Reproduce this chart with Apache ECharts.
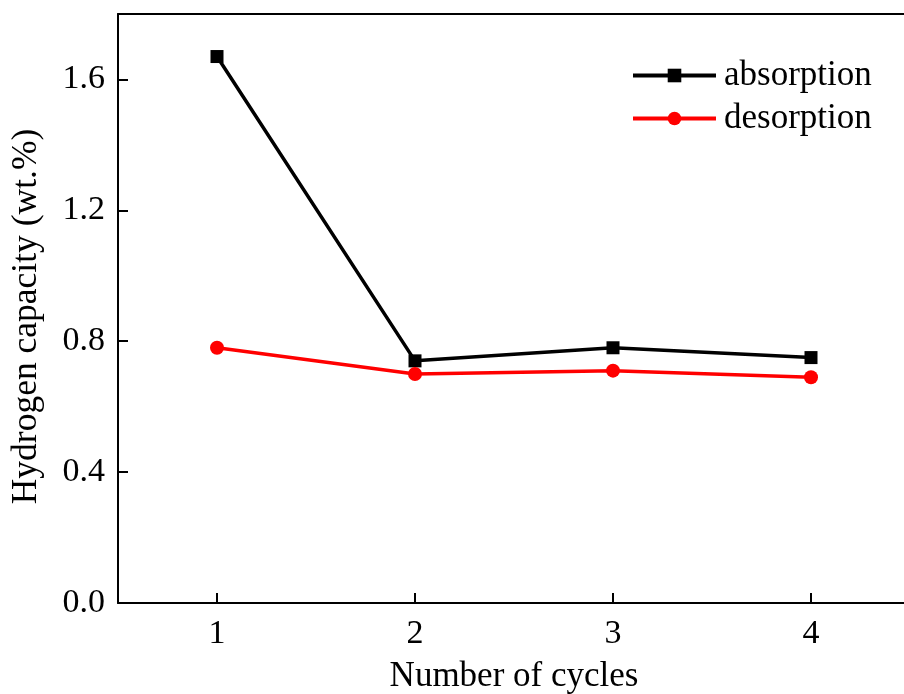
<!DOCTYPE html>
<html><head><meta charset="utf-8">
<script src="https://cdn.jsdelivr.net/npm/echarts@6/dist/echarts.min.js"></script>
<style>html,body{margin:0;padding:0;background:#fff}#c{width:904px;height:694px}</style>
</head><body><div id="c"></div>
<script>
const cycles = ['1', '2', '3', '4'];
const absorption = [1.67, 0.74, 0.78, 0.75];
const desorption = [0.78, 0.70, 0.71, 0.69];
const yTicks = [0, 0.4, 0.8, 1.2, 1.6];

const font = "'Liberation Serif', 'Times New Roman', serif";
const chart = echarts.init(document.getElementById('c'), null, {renderer: 'canvas'});
chart.setOption({
  backgroundColor: '#fff',
  animation: false,
  grid: {left: 118, top: 14, width: 792, height: 589, show: false, containLabel: false, outerBoundsMode: 'none'},
  legend: {
    orient: 'vertical', left: 631, top: 58, padding: 0, itemWidth: 83, itemHeight: 17, itemGap: 8,
    lineStyle: {width: 4},
    textStyle: {fontFamily: font, fontSize: 35, color: '#000', lineHeight: 35, padding: [0, 0, 0, 3]},
    data: ['absorption', 'desorption']
  },
  xAxis: [{
    type: 'category', data: cycles, boundaryGap: true, position: 'bottom',
    name: 'Number of cycles', nameLocation: 'middle', nameGap: 56,
    nameTextStyle: {fontFamily: font, fontSize: 35, color: '#000'},
    axisLine: {show: true, lineStyle: {color: '#000', width: 2}},
    axisTick: {show: true, inside: true, length: 10, alignWithLabel: true, lineStyle: {color: '#000', width: 2}},
    axisLabel: {fontFamily: font, fontSize: 34, color: '#000', margin: 14},
    splitLine: {show: false}
  }, {
    type: 'category', data: cycles, boundaryGap: true, position: 'top',
    axisLine: {show: true, onZero: false, lineStyle: {color: '#000', width: 2}},
    axisTick: {show: false}, axisLabel: {show: false}, splitLine: {show: false}
  }],
  yAxis: {
    type: 'value', min: 0, max: 1.8, interval: 0.4,
    name: 'Hydrogen capacity (wt.%)', nameLocation: 'middle', nameGap: 73,
    nameTextStyle: {fontFamily: font, fontSize: 35.5, color: '#000', padding: [0, 16, 0, 0]},
    axisLine: {show: true, lineStyle: {color: '#000', width: 2}},
    axisTick: {show: true, inside: true, length: 10, lineStyle: {color: '#000', width: 2}},
    axisLabel: {fontFamily: font, fontSize: 34, color: '#000', margin: 13,
      formatter: v => yTicks.some(t => Math.abs(t - v) < 1e-9) ? v.toFixed(1) : ''},
    splitLine: {show: false}
  },
  series: [
    {name: 'absorption', type: 'line', data: absorption, symbol: 'rect', symbolSize: 13,
     itemStyle: {color: '#000'}, lineStyle: {color: '#000', width: 3.5}},
    {name: 'desorption', type: 'line', data: desorption, symbol: 'circle', symbolSize: 14,
     itemStyle: {color: '#ff0000'}, lineStyle: {color: '#ff0000', width: 3.5}}
  ]
});
</script></body></html>
